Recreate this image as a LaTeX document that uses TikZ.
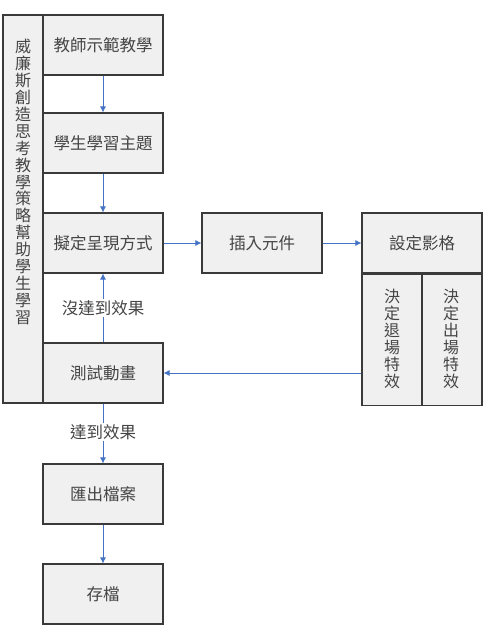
\documentclass[tikz,border=0pt]{standalone}
\usepackage{fontspec}
\setmainfont{Noto Sans CJK TC}
\usetikzlibrary{arrows.meta,positioning}
\definecolor{boxfill}{HTML}{F0F0F0}
\definecolor{boxline}{HTML}{3A3A3A}
\definecolor{arrowc}{HTML}{4472C4}
\definecolor{txt}{HTML}{444444}
\tikzset{
  x=1pt, y=-1pt,
  stepbox/.style={draw=boxline, fill=boxfill, line width=1.1pt, minimum width=120pt, minimum height=60pt, inner sep=0pt, text=txt, font=\fontsize{16.5}{18}\selectfont},
  flow/.style={draw=arrowc, line width=0.8pt, -{Latex[length=6pt,width=6pt]}},
  vtext/.style={text=txt, font=\fontsize{16}{16.9}\selectfont, align=center, inner sep=0pt},
  lbl/.style={fill=white, text=txt, font=\fontsize{16.5}{18}\selectfont, inner sep=1.5pt}
}
\begin{document}
\begin{tikzpicture}
\useasboundingbox (0,0) rectangle (486,642);
% left tall box
\node[draw=boxline, fill=boxfill, line width=1.1pt, minimum width=40pt, minimum height=388pt, inner sep=0pt] (side) at (23,209) {};
\node[vtext] (sidetxt) at (23,182) {威\\廉\\斯\\創\\造\\思\\考\\教\\學\\策\\略\\幫\\助\\學\\生\\學\\習};
% main column
\node[stepbox] (b1) at (103,45) {教師示範教學};
\node[stepbox] (b2) at (103,143) {學生學習主題};
\node[stepbox] (b3) at (103,243) {擬定呈現方式};
\node[stepbox] (b4) at (103,373) {測試動畫};
\node[stepbox] (b5) at (103,494) {匯出檔案};
\node[stepbox] (b6) at (103,594) {存檔};
% right part
\node[stepbox] (ins) at (262,243) {插入元件};
\node[stepbox] (set) at (422,243) {設定影格};
\node[draw=boxline, fill=boxfill, line width=1.1pt, minimum width=60pt, minimum height=131pt, inner sep=0pt, anchor=north west] (exitfx) at (set.south west) {};
\node[draw=boxline, fill=boxfill, line width=1.1pt, minimum width=60pt, minimum height=131pt, inner sep=0pt, anchor=north east] (enterfx) at (set.south east) {};
\node[vtext] (exittxt) at (392,339) {決\\定\\退\\場\\特\\效};
\node[vtext] (entertxt) at (451,339) {決\\定\\出\\場\\特\\效};
% connectors
\draw[flow] (b1) -- (b2);
\draw[flow] (b2) -- (b3);
\draw[flow] (b3) -- (ins);
\draw[flow] (ins) -- (set);
\draw[flow] (b4.east -| exitfx.west) -- (b4.east);
\draw[flow] (b4) -- node[lbl, pos=0.5] {沒達到效果} (b3);
\draw[flow] (b4) -- node[lbl, pos=0.48] {達到效果} (b5);
\draw[flow] (b5) -- (b6);
\end{tikzpicture}
\end{document}
